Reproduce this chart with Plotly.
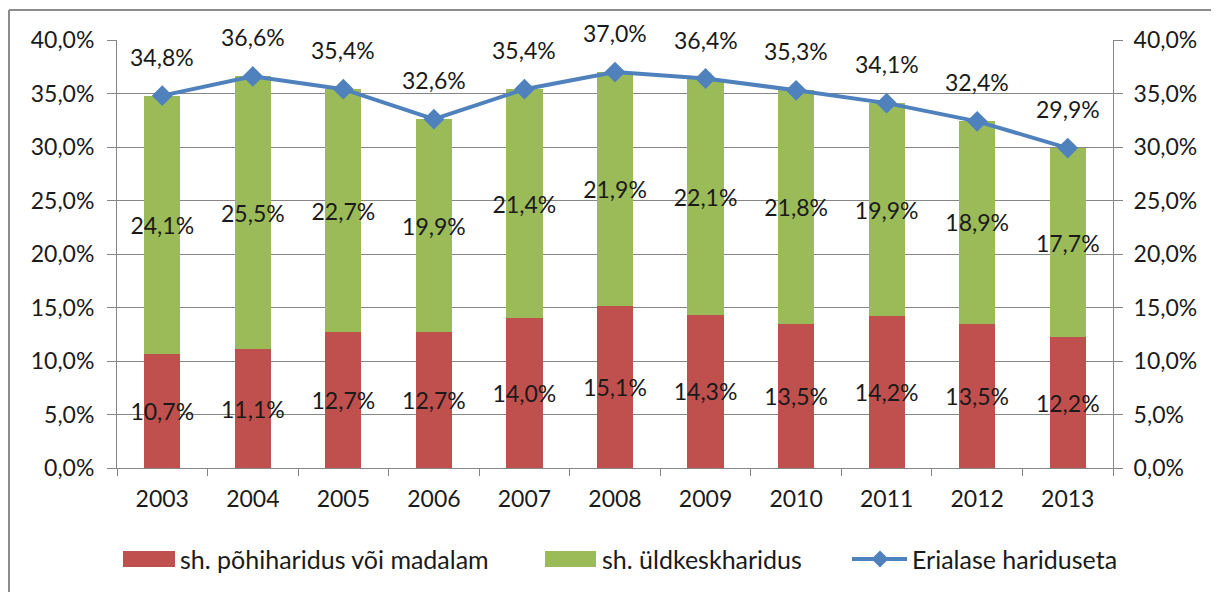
import plotly.graph_objects as go

years = ["2003", "2004", "2005", "2006", "2007", "2008", "2009", "2010", "2011", "2012", "2013"]
pohiharidus = [10.7, 11.1, 12.7, 12.7, 14.0, 15.1, 14.3, 13.5, 14.2, 13.5, 12.2]
yldkesk = [24.1, 25.5, 22.7, 19.9, 21.4, 21.9, 22.1, 21.8, 19.9, 18.9, 17.7]
erialase = [34.8, 36.6, 35.4, 32.6, 35.4, 37.0, 36.4, 35.3, 34.1, 32.4, 29.9]
y_ticks = [0, 5, 10, 15, 20, 25, 30, 35, 40]

names = ["sh. põhiharidus või madalam", "sh. üldkeskharidus", "Erialase hariduseta"]
RED, GREEN, BLUE = "#C0504D", "#9BBB59", "#4F81BD"
FONT = "Lato"
FS = 23
LFS = 25
TXT = "#1a1a1a"
GRID = "#868686"

# pixel geometry of the plot area (page pixels)
PX_L, PX_R, PX_T, PX_B = 117, 1113, 40, 468
W_AREA, H_AREA = PX_R - PX_L, PX_B - PX_T
BODY = 8  # page body margin


def px(x):
    return (x - PX_L) / W_AREA


def py(y):
    return (PX_B - y) / H_AREA


def fmt(v):
    return f"{v:.1f}%".replace(".", ",")


fig = go.Figure()
for vals, name, col in [(pohiharidus, names[0], RED), (yldkesk, names[1], GREEN)]:
    fig.add_trace(go.Bar(
        x=years, y=vals, name=name, showlegend=False,
        marker=dict(color=col, line=dict(width=0)),
        text=[fmt(v) for v in vals], textposition="inside", insidetextanchor="middle",
        textangle=0, constraintext="none",
        textfont=dict(family=FONT, size=FS, color=TXT),
    ))

fig.add_trace(go.Scatter(
    x=years, y=erialase, name=names[2], mode="lines+markers", yaxis="y2", showlegend=False,
    line=dict(color=BLUE, width=4),
    marker=dict(symbol="diamond", size=16, color=BLUE),
))

for i, v in enumerate(erialase):
    fig.add_annotation(x=i, y=v, xref="x", yref="y2", text=fmt(v), showarrow=False, yshift=39,
                       font=dict(family=FONT, size=FS, color=TXT))

tick_text = [fmt(t) for t in y_ticks]
axis_common = dict(range=[0, 40], tickvals=y_ticks, ticktext=tick_text,
                   ticks="outside", ticklen=9, tickcolor=GRID, showline=True,
                   linecolor=GRID, linewidth=1,
                   tickfont=dict(family=FONT, size=FS, color=TXT))

fig.update_layout(
    width=1219, height=592,
    margin=dict(l=PX_L - BODY, r=1219 - (PX_R - BODY), t=PX_T - BODY, b=592 - (PX_B - BODY)),
    paper_bgcolor="white", plot_bgcolor="white",
    barmode="stack", bargap=0.6,
    font=dict(family=FONT, size=FS, color=TXT),
    xaxis=dict(type="category", range=[-0.5, len(years) - 0.5], tickson="boundaries",
               ticks="outside", ticklen=7, tickangle=0, ticklabelstandoff=10,
               tickcolor=GRID, showline=True, linecolor=GRID, linewidth=1,
               showgrid=False, tickfont=dict(family=FONT, size=FS, color=TXT)),
    yaxis=dict(showgrid=True, gridcolor=GRID, gridwidth=1, zeroline=False,
               ticklabelstandoff=8, **axis_common),
    yaxis2=dict(overlaying="y", side="right", showgrid=False, zeroline=False,
                ticklabelstandoff=6, **axis_common),
    showlegend=False,
)

# custom legend (swatches + labels)
LEG_Y = 559
fig.add_shape(type="rect", xref="paper", yref="paper", x0=px(123), x1=px(175),
              y0=py(567), y1=py(551), fillcolor=RED, line=dict(width=0))
fig.add_annotation(xref="paper", yref="paper", x=px(178), y=py(LEG_Y), text=names[0],
                   showarrow=False, xanchor="left", yanchor="middle",
                   font=dict(family=FONT, size=LFS, color=TXT))
fig.add_shape(type="rect", xref="paper", yref="paper", x0=px(545), x1=px(596),
              y0=py(567), y1=py(551), fillcolor=GREEN, line=dict(width=0))
fig.add_annotation(xref="paper", yref="paper", x=px(600), y=py(LEG_Y), text=names[1],
                   showarrow=False, xanchor="left", yanchor="middle",
                   font=dict(family=FONT, size=LFS, color=TXT))
fig.add_shape(type="line", xref="paper", yref="paper", x0=px(852), x1=px(907),
              y0=py(LEG_Y), y1=py(LEG_Y), line=dict(color=BLUE, width=4))
cx, cy, d = 880, LEG_Y, 8.5
fig.add_shape(type="path", xref="paper", yref="paper",
              path=f"M {px(cx - d)} {py(cy)} L {px(cx)} {py(cy - d)} L {px(cx + d)} {py(cy)} "
                   f"L {px(cx)} {py(cy + d)} Z",
              fillcolor=BLUE, line=dict(width=0))
fig.add_annotation(xref="paper", yref="paper", x=px(910), y=py(LEG_Y), text=names[2],
                   showarrow=False, xanchor="left", yanchor="middle",
                   font=dict(family=FONT, size=LFS, color=TXT))

# chart border (left and top edges visible)
fig.add_shape(type="line", xref="paper", yref="paper", x0=px(9), x1=px(9),
              y0=py(10), y1=py(700), line=dict(color="#8c8c8c", width=2))
fig.add_shape(type="line", xref="paper", yref="paper", x0=px(9), x1=px(1400),
              y0=py(10), y1=py(10), line=dict(color="#8c8c8c", width=2))

fig.write_html("out.html")
